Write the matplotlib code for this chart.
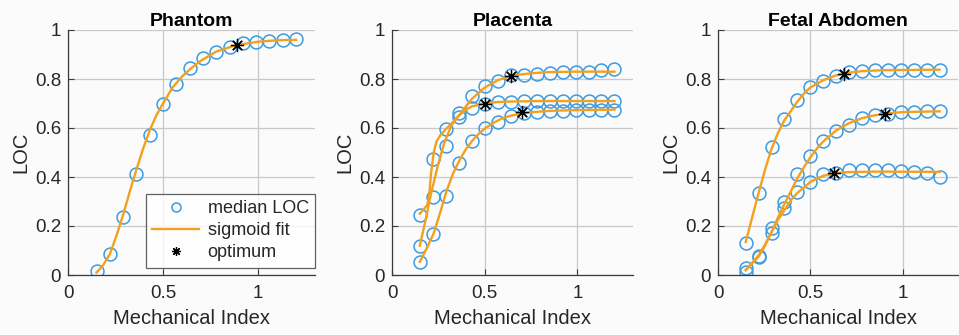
import matplotlib
matplotlib.use("Agg")
import matplotlib.pyplot as plt
from matplotlib.lines import Line2D

plt.rcParams['font.family'] = ['Liberation Sans', 'DejaVu Sans']

# ---------------- data ----------------
mi = [0.15, 0.22, 0.29, 0.36, 0.43, 0.50, 0.57, 0.64, 0.71, 0.78, 0.85, 0.92, 0.99, 1.06, 1.13, 1.20]

# Phantom
phantom_med = [0.018, 0.086, 0.235, 0.412, 0.571, 0.697, 0.780, 0.844, 0.884, 0.912, 0.932, 0.946, 0.950, 0.956, 0.959, 0.962]
phantom_fit_x = [0.15, 0.185, 0.22, 0.255, 0.29, 0.325, 0.36, 0.395, 0.43, 0.465, 0.50, 0.55, 0.60, 0.65, 0.70, 0.78, 0.88, 1.00, 1.10, 1.20]
phantom_fit_y = [0.010, 0.040, 0.085, 0.160, 0.245, 0.340, 0.430, 0.515, 0.590, 0.652, 0.700, 0.765, 0.810, 0.845, 0.875, 0.912, 0.937, 0.952, 0.958, 0.960]
phantom_opt = ([0.89], [0.939])

# Placenta (three series)
plac_a_med = [0.245, 0.472, 0.594, 0.660, 0.732, 0.771, 0.793, 0.815, 0.815, 0.820, 0.825, 0.828, 0.830, 0.830, 0.835, 0.840]
plac_b_med = [0.118, 0.317, 0.528, 0.646, 0.680, 0.700, 0.705, 0.708, 0.710, 0.710, 0.710, 0.710, 0.710, 0.710, 0.710, 0.710]
plac_c_med = [0.054, 0.166, 0.324, 0.458, 0.547, 0.601, 0.626, 0.649, 0.663, 0.665, 0.668, 0.670, 0.672, 0.673, 0.674, 0.675]
plac_a_fit_x = [0.15, 0.19, 0.20, 0.21, 0.225, 0.24, 0.26, 0.29, 0.33, 0.36, 0.40, 0.43, 0.47, 0.50, 0.57, 0.64, 0.71, 0.78, 0.85, 0.99, 1.20]
plac_a_fit_y = [0.250, 0.285, 0.320, 0.410, 0.500, 0.545, 0.570, 0.595, 0.625, 0.650, 0.690, 0.718, 0.745, 0.765, 0.795, 0.813, 0.820, 0.825, 0.828, 0.830, 0.830]
plac_b_fit_x = [0.15, 0.18, 0.21, 0.245, 0.28, 0.32, 0.36, 0.40, 0.43, 0.50, 0.57, 0.64, 0.80, 1.20]
plac_b_fit_y = [0.120, 0.220, 0.330, 0.440, 0.535, 0.610, 0.650, 0.675, 0.688, 0.700, 0.706, 0.708, 0.710, 0.710]
plac_c_fit_x = [0.15, 0.185, 0.225, 0.26, 0.295, 0.33, 0.365, 0.40, 0.435, 0.47, 0.505, 0.55, 0.59, 0.64, 0.70, 0.78, 0.85, 1.00, 1.20]
plac_c_fit_y = [0.054, 0.105, 0.170, 0.255, 0.345, 0.415, 0.470, 0.515, 0.550, 0.578, 0.600, 0.622, 0.638, 0.650, 0.660, 0.666, 0.670, 0.673, 0.675]
plac_opt = ([0.64, 0.50, 0.70], [0.814, 0.698, 0.665])

# Fetal abdomen (three series)
fetal_d_med = [0.129, 0.336, 0.524, 0.637, 0.714, 0.766, 0.793, 0.812, 0.827, 0.833, 0.835, 0.835, 0.836, 0.837, 0.838, 0.838]
fetal_e_med = [0.030, 0.078, 0.190, 0.299, 0.412, 0.487, 0.548, 0.589, 0.612, 0.639, 0.653, 0.657, 0.667, 0.667, 0.668, 0.671]
fetal_f_med = [0.012, 0.072, 0.170, 0.272, 0.337, 0.381, 0.412, 0.418, 0.429, 0.430, 0.430, 0.428, 0.425, 0.420, 0.415, 0.401]
fetal_d_fit_x = [0.15, 0.22, 0.255, 0.29, 0.325, 0.36, 0.40, 0.43, 0.47, 0.50, 0.57, 0.64, 0.71, 0.78, 0.90, 1.20]
fetal_d_fit_y = [0.135, 0.335, 0.430, 0.515, 0.580, 0.632, 0.675, 0.708, 0.745, 0.765, 0.795, 0.815, 0.826, 0.832, 0.836, 0.838]
fetal_e_fit_x = [0.15, 0.22, 0.255, 0.29, 0.325, 0.36, 0.40, 0.43, 0.47, 0.50, 0.54, 0.57, 0.64, 0.71, 0.78, 0.85, 0.92, 1.00, 1.20]
fetal_e_fit_y = [0.020, 0.075, 0.120, 0.175, 0.235, 0.290, 0.350, 0.395, 0.445, 0.480, 0.520, 0.545, 0.590, 0.620, 0.640, 0.652, 0.660, 0.665, 0.668]
fetal_f_fit_x = [0.15, 0.22, 0.255, 0.29, 0.325, 0.36, 0.40, 0.43, 0.47, 0.50, 0.57, 0.64, 0.71, 0.85, 1.20]
fetal_f_fit_y = [0.020, 0.080, 0.125, 0.175, 0.225, 0.265, 0.310, 0.335, 0.360, 0.380, 0.405, 0.416, 0.420, 0.422, 0.421]
fetal_opt = ([0.68, 0.905, 0.63], [0.820, 0.657, 0.415])

titles = ["Phantom", "Placenta", "Fetal Abdomen"]
xticks = [0, 0.5, 1]
xticklabels = ["0", "0.5", "1"]
yticks = [0, 0.2, 0.4, 0.6, 0.8, 1]
yticklabels = ["0", "0.2", "0.4", "0.6", "0.8", "1"]

panels = [
    dict(meds=[phantom_med],
         fits=[(phantom_fit_x, phantom_fit_y)],
         opt=phantom_opt),
    dict(meds=[plac_a_med, plac_b_med, plac_c_med],
         fits=[(plac_a_fit_x, plac_a_fit_y), (plac_b_fit_x, plac_b_fit_y), (plac_c_fit_x, plac_c_fit_y)],
         opt=plac_opt),
    dict(meds=[fetal_d_med, fetal_e_med, fetal_f_med],
         fits=[(fetal_d_fit_x, fetal_d_fit_y), (fetal_e_fit_x, fetal_e_fit_y), (fetal_f_fit_x, fetal_f_fit_y)],
         opt=fetal_opt),
]

# ---------------- style ----------------
W, H = 959, 335
BLUE = '#3c9be0'
ORANGE = '#f3a01e'
TXT = '#262626'
GRID = '#c8c8c8'
BG = '#fbfbfb'
STAR = (8, 2, 0)

fig = plt.figure(figsize=(W / 100, H / 100), dpi=100, facecolor=BG)

ax_px = [(68, 315), (392, 633), (718, 958)]
top_px, bot_px = 30, 275

for i, (p, (l, r)) in enumerate(zip(panels, ax_px)):
    ax = fig.add_axes([l / W, (H - bot_px) / H, (r - l) / W, (bot_px - top_px) / H])
    ax.set_facecolor(BG)
    for fx, fy in p['fits']:
        ax.plot(fx, fy, color=ORANGE, lw=1.7, zorder=3, solid_joinstyle='round')
    for m in p['meds']:
        ax.plot(mi, m, linestyle='none', marker='o', markersize=9.3,
                markerfacecolor='none', markeredgecolor=BLUE, markeredgewidth=1.1, zorder=2)
    ax.plot(p['opt'][0], p['opt'][1], linestyle='none', marker=STAR, markersize=9.5,
            color='black', markeredgewidth=0.9, zorder=4)

    ax.set_xlim(0, 1.3)
    ax.set_ylim(0, 1)
    ax.set_xticks(xticks)
    ax.set_xticklabels(xticklabels)
    ax.set_yticks(yticks)
    ax.set_yticklabels(yticklabels)
    ax.grid(True, color=GRID, lw=0.9)
    ax.set_axisbelow(True)
    for s in ['top', 'right']:
        ax.spines[s].set_visible(False)
    for s in ['left', 'bottom']:
        ax.spines[s].set_color('#3a3a3a')
        ax.spines[s].set_linewidth(0.9)
    ax.tick_params(direction='in', length=4, width=0.8, colors='#3a3a3a',
                   labelsize=13.5, labelcolor=TXT, pad=5)
    ax.tick_params(axis='x', pad=7)
    ax.set_title(titles[i], fontsize=14, fontweight='bold', color='black', pad=3)
    ax.set_xlabel('Mechanical Index', fontsize=14.5, color=TXT, labelpad=5)
    ax.set_ylabel('LOC', fontsize=14.5, color=TXT, labelpad=3)

    if i == 0:
        handles = [
            Line2D([], [], linestyle='none', marker='o', markersize=6.5,
                   markerfacecolor='none', markeredgecolor=BLUE, markeredgewidth=1.1),
            Line2D([], [], color=ORANGE, lw=1.7),
            Line2D([], [], linestyle='none', marker=STAR, markersize=6.5,
                   color='black', markeredgewidth=0.9),
        ]
        leg = ax.legend(handles, ['median LOC', 'sigmoid fit', 'optimum'],
                        loc='lower right', bbox_to_anchor=(1.0, 0.03),
                        fontsize=13, frameon=True, fancybox=False,
                        handlelength=2.6, handletextpad=0.45, borderpad=0.35,
                        labelspacing=0.28, borderaxespad=0.0)
        leg.get_frame().set_edgecolor('#3a3a3a')
        leg.get_frame().set_linewidth(0.9)
        leg.get_frame().set_facecolor('white')
        for t in leg.get_texts():
            t.set_color(TXT)

fig.savefig('out.png', dpi=100, facecolor=BG)
